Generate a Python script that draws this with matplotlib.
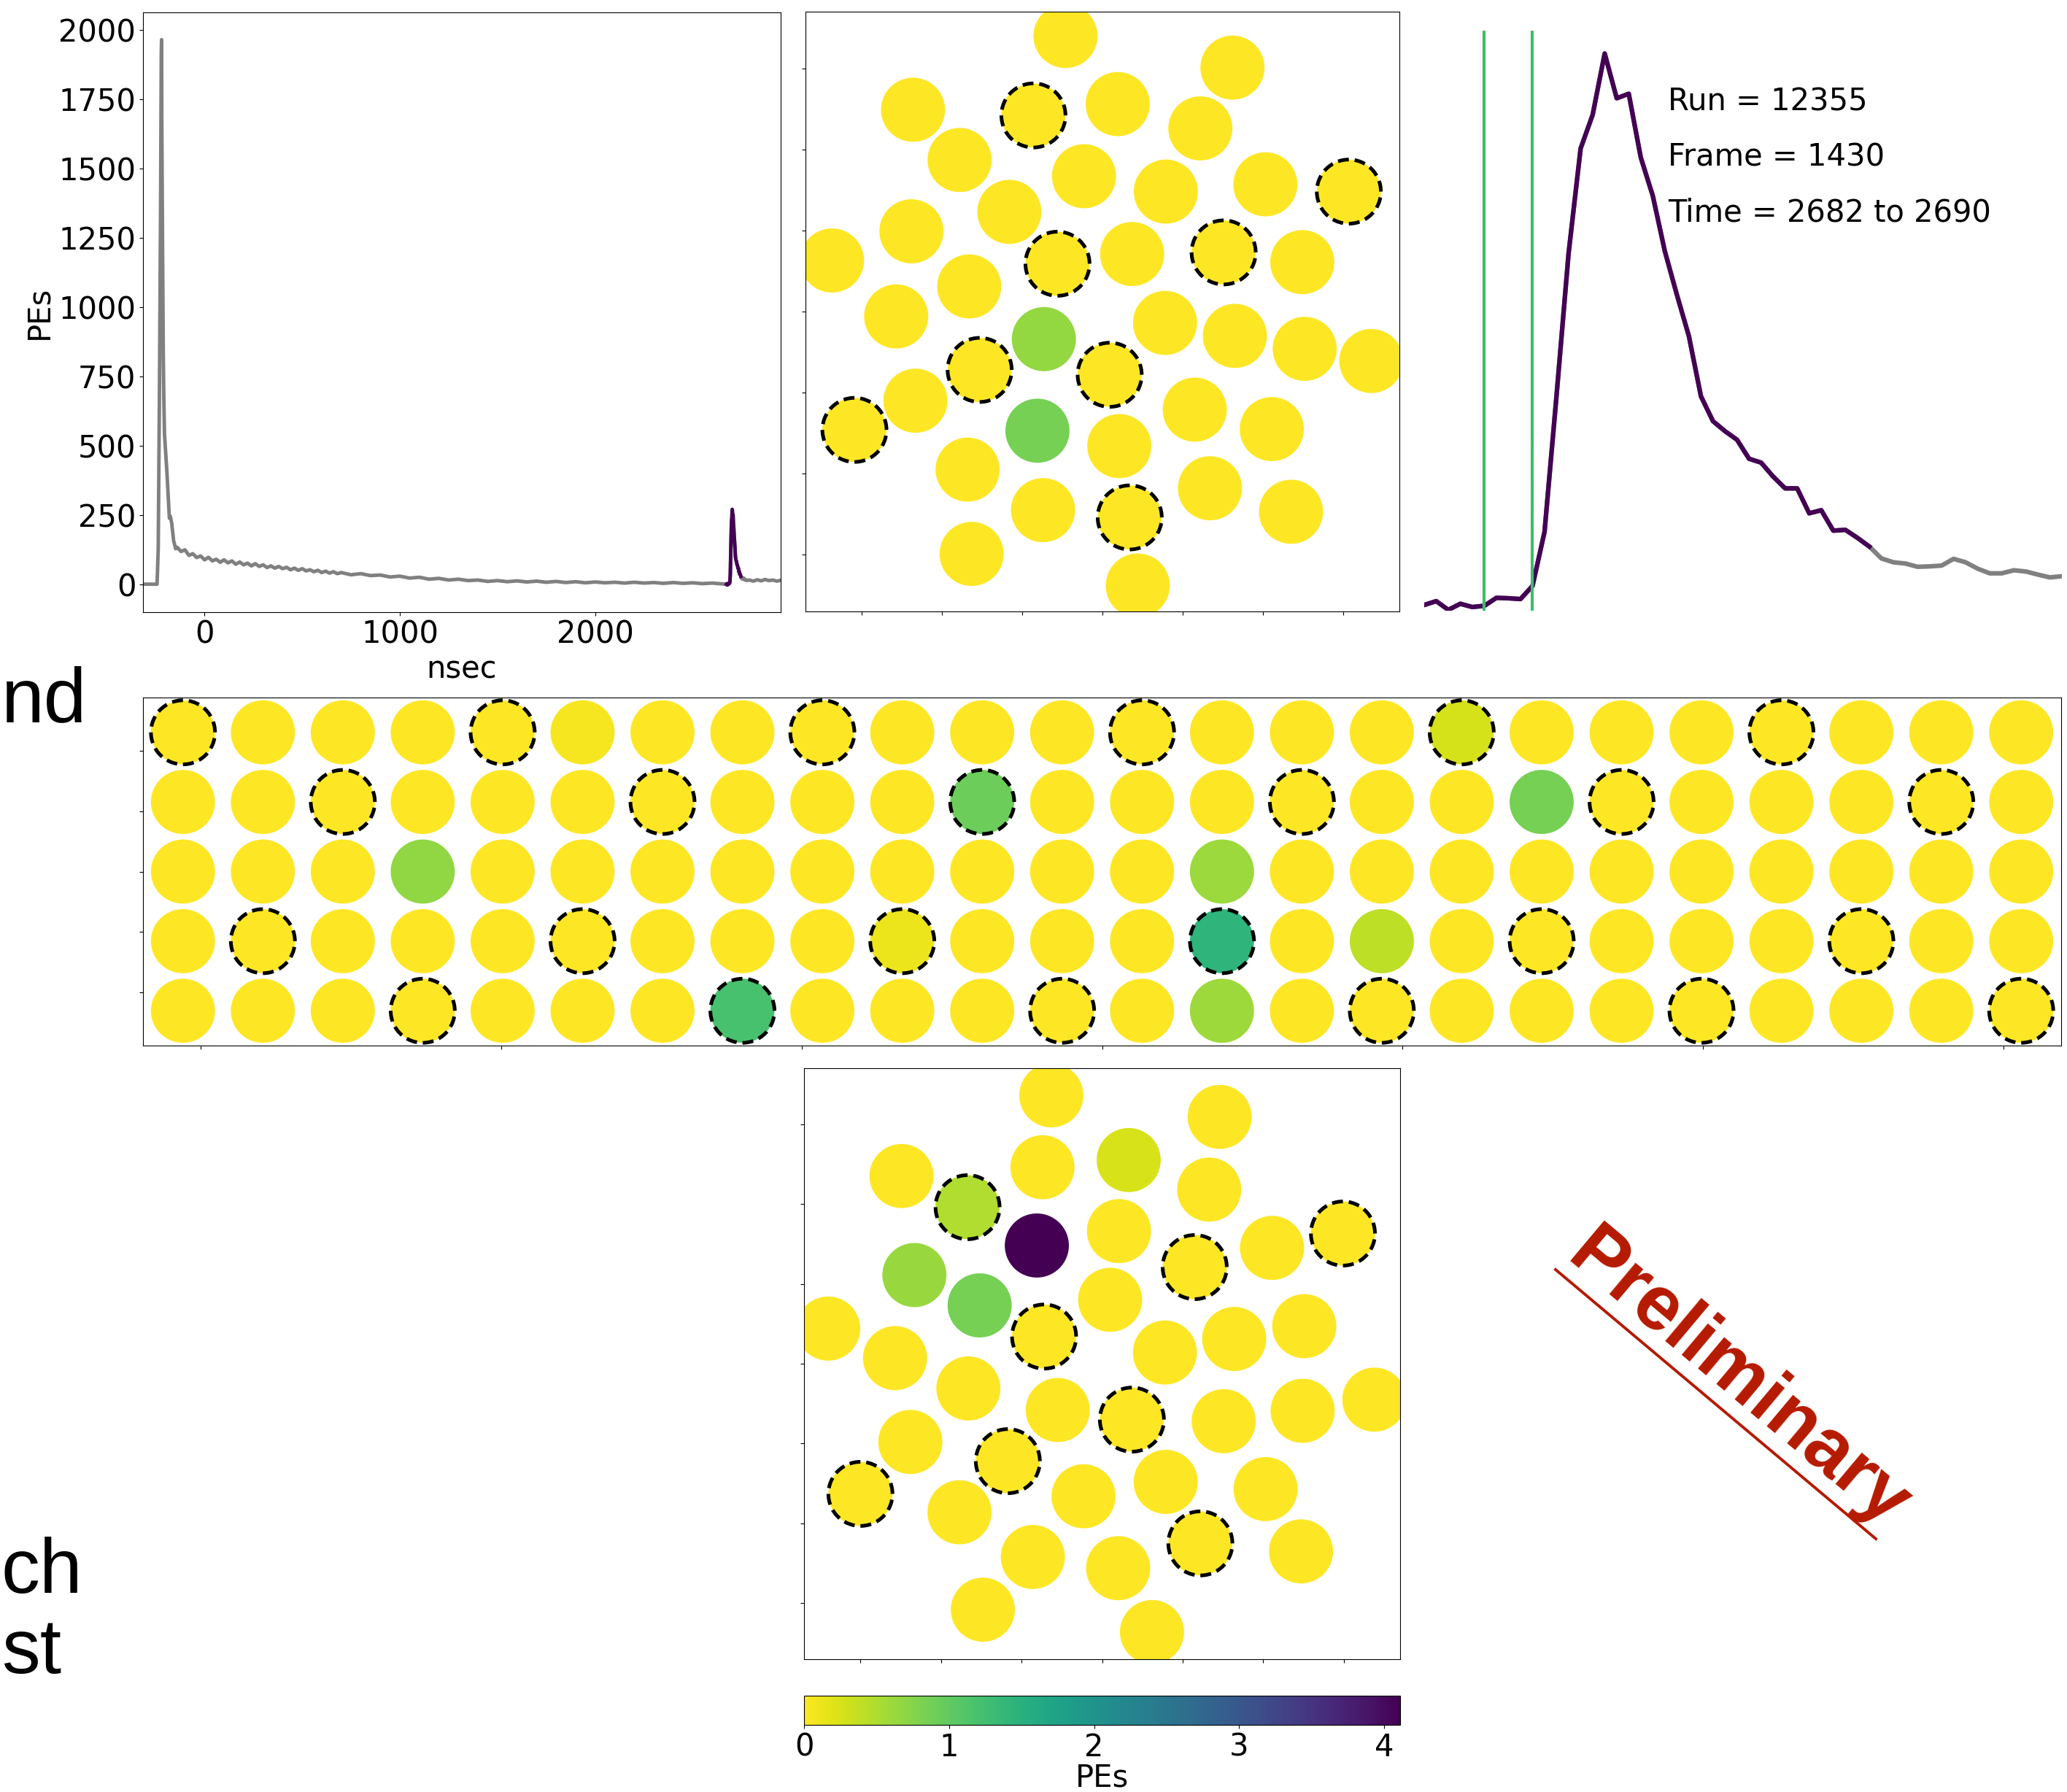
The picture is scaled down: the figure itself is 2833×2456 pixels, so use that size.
import numpy as np
import matplotlib.pyplot as plt
from matplotlib.colors import Normalize
from matplotlib.cm import ScalarMappable
from matplotlib.lines import Line2D
from matplotlib.ticker import MultipleLocator

# summed waveform (PEs vs nsec)
wave_t = [-315, -243, -237, -231, -225, -221.5, -220, -218.5, -215, -211, -208.6, -205,
          -192.5, -180, -175, -168, -158, -152, -148,
          -140, -120, -100, -80, -60, -40, -20, 0, 20, 40, 60, 80, 100, 120, 140, 160,
          180, 200, 220, 240, 260, 280, 300, 320, 340, 360, 380, 400, 420, 440, 460,
          480, 500, 520, 540, 560, 580, 600, 620, 640, 660, 680, 700,
          750, 800, 850, 900, 950, 1000, 1050, 1100, 1150, 1200, 1250, 1300, 1350,
          1400, 1450, 1500, 1550, 1600, 1650, 1700, 1750, 1800, 1850, 1900, 1950,
          2000, 2050, 2100, 2150, 2200, 2250, 2300, 2350, 2400, 2450, 2500, 2550,
          2600, 2650]
wave_v = [0, 0, 128, 679, 1367, 1918, 1965, 1642, 1229, 817, 679, 541,
          404, 238, 245, 220, 156, 140, 128,
          133, 118, 124, 104, 110, 96, 102, 88, 97, 84, 90, 79, 88, 77, 84, 72,
          80, 70, 76, 66, 74, 64, 70, 60, 66, 58, 64, 56, 61, 52, 58,
          50, 56, 48, 52, 45, 50, 42, 47, 40, 45, 38, 42,
          34, 38, 31, 33, 26, 29, 22, 25, 18, 21, 15, 18, 13,
          15, 10, 13, 9, 12, 8, 11, 7, 10, 6, 9, 5,
          8, 5, 7, 4, 7, 4, 6, 3, 6, 3, 5, 2,
          4, 1]

# the selected pulse, 2 ns samples
pulse_t = list(range(2672, 2780, 2))
pulse_v = [-0.2, 1.7, -2.6, 0.4, -1.2, -0.6, 3.3, 3.1, 2.7, 9.1, 35.6, 102.4, 172.0,
           223.3, 239.8, 269.8, 247.9, 250.1, 218.9, 200.1, 173.0, 151.7, 131.4,
           102.0, 89.8, 84.9, 80.7, 71.4, 69.5, 62.7, 56.9, 56.9, 44.7, 46.2, 36.2,
           36.6, 32.7, 28.4, 22.6, 20.7, 20.1, 18.5, 18.7, 19.1, 22.4, 20.7, 17.6,
           15.3, 15.3, 16.8, 16.2, 14.7, 13.3, 13.9]
pulse_end = 2746

tail_t = [2790, 2810, 2830, 2850, 2870, 2890, 2910, 2930, 2950]
tail_v = [15, 11, 16, 12, 17, 13, 15, 11, 14]

time_window = [2682, 2690]
run = 12355
frame = 1430

# top end cap PMTs
top_x = [-0.46, 1.62, -2.36, -0.86, 0.19, 1.22, -1.78, -0.23, 0.79, 2.03, 3.07, -1.16,
         -3.37, -2.38, -0.56, 0.37, 1.51, 2.49, -1.66, -2.57, 0.78, 1.65, 2.52, 3.35,
         -0.73, -1.53, 0.09, -2.33, -3.09, -0.81, 1.15, 2.11, 0.21, -1.68, 1.34, -0.74,
         0.34, 2.35, -1.63, 0.44]
top_y = [3.40, 3.01, 2.49, 2.42, 2.56, 2.26, 1.87, 1.67, 1.48, 1.57, 1.48, 1.23,
         0.63, 0.99, 0.59, 0.71, 0.73, 0.61, 0.31, -0.06, -0.14, -0.30, -0.46, -0.61,
         -0.34, -0.72, -0.78, -1.10, -1.46, -1.47, -1.21, -1.45, -1.66, -1.95, -2.18,
         -2.45, -2.54, -2.47, -2.99, -3.38]
top_pe = [0] * 40
top_pe[24] = 0.66
top_pe[29] = 0.86
top_dashed = [3, 10, 14, 16, 25, 26, 28, 36]

# bottom end cap PMTs
bot_x = [-0.63, 1.46, -2.49, -0.74, 0.33, 1.33, -1.67, -0.81, 0.21, 1.15, 2.11, 2.99,
         -2.33, -1.52, -3.40, 0.10, -0.72, 0.78, 1.64, 2.51, -2.57, -1.66, -0.55, 0.37,
         1.51, 2.49, 3.38, -2.38, -1.17, 0.79, 2.03, -3.00, -1.77, -0.23, -0.86, 0.20,
         1.22, 2.47, -1.48, 0.62]
bot_y = [3.36, 3.09, 2.35, 2.46, 2.55, 2.18, 1.96, 1.48, 1.66, 1.21, 1.45, 1.63,
         1.11, 0.73, 0.44, 0.80, 0.34, 0.14, 0.31, 0.47, 0.07, -0.31, -0.58, -0.70,
         -0.72, -0.59, -0.45, -0.98, -1.22, -1.48, -1.57, -1.63, -1.86, -1.66, -2.42,
         -2.56, -2.25, -2.35, -3.08, -3.36]
bot_pe = [0] * 40
bot_pe[4] = 0.25
bot_pe[6] = 0.49
bot_pe[7] = 4.11
bot_pe[12] = 0.63
bot_pe[13] = 0.86
bot_dashed = [6, 9, 11, 16, 23, 28, 31, 36]

# barrel, 5 rows x 24 columns (row 0 on top)
n_rows, n_cols = 5, 24
col_pitch, row_pitch = 26.6, 57.6
barrel_pe = np.zeros((n_rows, n_cols))
barrel_pe[0, 5] = 0.05
barrel_pe[0, 16] = 0.27
barrel_pe[1, 10] = 0.92
barrel_pe[1, 17] = 0.86
barrel_pe[2, 3] = 0.68
barrel_pe[2, 13] = 0.62
barrel_pe[3, 9] = 0.12
barrel_pe[3, 13] = 1.44
barrel_pe[3, 15] = 0.41
barrel_pe[4, 7] = 1.19
barrel_pe[4, 13] = 0.60
barrel_dashed_start = [0, 2, None, 1, 3]   # every 4th column from here

W, H = 2833, 2456
fig = plt.figure(figsize=(W / 100, H / 100), dpi=100)
plt.rcParams['font.size'] = 30

cmap = plt.get_cmap('viridis_r')
norm = Normalize(vmin=0, vmax=4.11)
msize = 4000
dash = (0, (3.0, 1.6))


def px_axes(left, top, right, bottom):
    return fig.add_axes([left / W, 1 - bottom / H, (right - left) / W, (bottom - top) / H])


def draw_pmts(ax, x, y, pe, dashed):
    x, y, pe = np.asarray(x, float), np.asarray(y, float), np.asarray(pe, float)
    d = np.zeros(len(x), bool)
    d[dashed] = True
    ax.scatter(x[~d], y[~d], s=msize, c=pe[~d], cmap=cmap, norm=norm, edgecolors='none')
    ax.scatter(x[d], y[d], s=msize, c=pe[d], cmap=cmap, norm=norm,
               edgecolors='k', linewidths=3.6, linestyles=[dash])


# waveform
all_t = np.array(wave_t + pulse_t + tail_t, float)
all_v = np.array(wave_v + pulse_v + tail_v, float)
pt = np.array(pulse_t)
pv = np.array(pulse_v)
sel = pt <= pulse_end

ax1 = px_axes(196, 17, 1070, 839)
ax1.plot(all_t, all_v, color='gray', lw=3.5)
ax1.plot(pt[sel], pv[sel], color='#440154', lw=3.5)
ax1.set_xlim(all_t.min(), all_t.max())
ax1.set_xticks([0, 1000, 2000])
ax1.yaxis.set_major_locator(MultipleLocator(250))
ax1.set_xlabel('nsec')
ax1.set_ylabel('PEs')

# top cap
ax2 = px_axes(1104, 16, 1918, 838)
draw_pmts(ax2, top_x, top_y, top_pe, top_dashed)

# zoom on pulse
ax3 = px_axes(1952, 42, 2826, 837)
ax3.plot(pt, pv, color='gray', lw=4.5)
ax3.plot(pt[sel], pv[sel], color='#440154', lw=4.5)
for t in time_window:
    ax3.axvline(t, color='#3fbc6e', lw=3)
ax3.set_xlim(pt.min(), pt.max())
ax3.set_ylim(-3, 281)
ax3.axis('off')
fig.text(2286 / W, 1 - 151 / H, f'Run = {run}', fontsize=30)
fig.text(2286 / W, 1 - 228 / H, f'Frame = {frame}', fontsize=30)
fig.text(2286 / W, 1 - 304 / H, f'Time = {time_window[0]} to {time_window[1]}', fontsize=30)

# barrel
ax4 = px_axes(196, 956, 2825, 1433)
cols, rows = np.meshgrid(np.arange(n_cols), np.arange(n_rows))
bx = ((cols - (n_cols - 1) / 2) * col_pitch).ravel()
by = (((n_rows - 1) / 2 - rows) * row_pitch).ravel()
bdash = []
for r, start in enumerate(barrel_dashed_start):
    if start is not None:
        bdash += [r * n_cols + c for c in range(start, n_cols, 4)]
draw_pmts(ax4, bx, by, barrel_pe.ravel(), bdash)
ax4.set_xlim(-n_cols / 2 * col_pitch, n_cols / 2 * col_pitch)
ax4.set_ylim(-n_rows / 2 * row_pitch, n_rows / 2 * row_pitch)
ax4.xaxis.set_major_locator(MultipleLocator(100))
ax4.yaxis.set_major_locator(MultipleLocator(50))

# bottom cap
ax5 = px_axes(1102, 1464, 1919, 2274)
draw_pmts(ax5, bot_x, bot_y, bot_pe, bot_dashed)

for ax in (ax2, ax5):
    ax.set_xlim(-3.7, 3.7)
    ax.set_ylim(-3.7, 3.7)
    ax.xaxis.set_major_locator(MultipleLocator(1))
    ax.yaxis.set_major_locator(MultipleLocator(1))
for ax in (ax2, ax4, ax5):
    ax.tick_params(labelleft=False, labelbottom=False)

cax = px_axes(1102, 2324, 1919, 2364)
cb = fig.colorbar(ScalarMappable(norm=norm, cmap=cmap), cax=cax, orientation='horizontal')
cb.set_ticks([0, 1, 2, 3, 4])
cb.set_label('PEs', labelpad=0)

# slide text fragments at the left edge
slide_font = dict(fontsize=76, family='Liberation Sans', ha='left', va='baseline')
fig.text(2 / W, 1 - 989 / H, 'nd', **slide_font)
fig.text(2 / W, 1 - 2183 / H, 'ch', **slide_font)
fig.text(2 / W, 1 - 2293 / H, 'st', **slide_font)

# Preliminary stamp
red = '#b51a00'
fig.text(2382 / W, 1 - 1892 / H, 'Preliminary', fontsize=76, family='Liberation Sans',
         weight='bold', color=red, rotation=-40, rotation_mode='anchor',
         ha='center', va='center')
fig.add_artist(Line2D([2132 / W, 2571 / W], [1 - 1740 / H, 1 - 2109 / H],
                      transform=fig.transFigure, color=red, lw=2.8))

fig.savefig('out.png', dpi=100)
